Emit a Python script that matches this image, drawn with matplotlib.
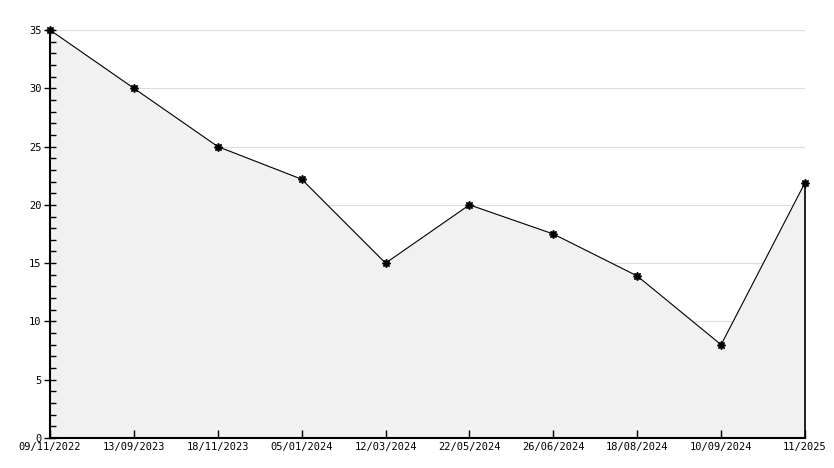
import matplotlib
matplotlib.use("Agg")
import matplotlib.pyplot as plt
from matplotlib.ticker import MultipleLocator
from matplotlib.transforms import ScaledTranslation

dates = ["09/11/2022", "13/09/2023", "18/11/2023", "05/01/2024", "12/03/2024",
         "22/05/2024", "26/06/2024", "18/08/2024", "10/09/2024", "11/2025"]
values = [35, 30, 25, 22.2, 15, 20, 17.5, 13.9, 8, 21.9]
grid_levels = [5, 10, 15, 20, 25, 30, 35]

fig = plt.figure(figsize=(8.34, 4.68), dpi=100)
ax = fig.add_axes([50/834, 1-438/468, 755/834, 408/468])
x = list(range(len(dates)))
for g in grid_levels:
    ax.axhline(g, color="#dddddd", lw=0.8, zorder=0.5)
ax.fill_between(x, values, 0, color="#f1f1f1", zorder=1)
ax.plot(x, values, color="black", lw=0.8, marker=(8, 1, 0), markersize=6, zorder=3, clip_on=False)
ax.vlines(x[-1], 0, values[-1], color="black", lw=1.2, zorder=3, clip_on=False)

ax.set_xlim(0, len(dates)-1)
ax.set_ylim(0, 35)
ax.yaxis.set_major_locator(MultipleLocator(5))
ax.yaxis.set_minor_locator(MultipleLocator(1))
ax.set_xticks(x)
ax.set_xticklabels(dates)
for s in ["top", "right"]:
    ax.spines[s].set_visible(False)
for s in ["left", "bottom"]:
    ax.spines[s].set_color("black")
    ax.spines[s].set_linewidth(1.5)
ax.tick_params(axis="y", which="major", direction="inout", length=8, width=1, labelsize=7.5, pad=2, right=False)
ax.tick_params(axis="y", which="minor", direction="in", length=4, width=1, right=False, left=True)
ax.tick_params(axis="x", which="major", direction="in", length=6, width=1, labelsize=7.5, pad=3, top=False)
for lbl in ax.get_xticklabels() + ax.get_yticklabels():
    lbl.set_family("DejaVu Sans Mono")
t0 = ax.yaxis.get_major_ticks()[0]
t0.label1.set_transform(t0.label1.get_transform() + ScaledTranslation(0, 2/72, fig.dpi_scale_trans))
fig.savefig("out.png", dpi=100)
